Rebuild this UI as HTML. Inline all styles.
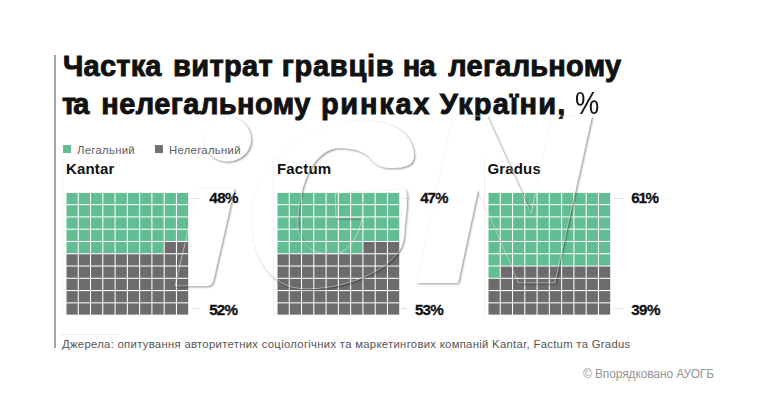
<!DOCTYPE html>
<html><head><meta charset="utf-8">
<style>
html,body{margin:0;padding:0;background:#fff;}
body{width:768px;height:403px;position:relative;overflow:hidden;font-family:"Liberation Sans",sans-serif;}
.a{position:absolute;white-space:nowrap;}
#vline{position:absolute;left:54px;top:55px;width:2px;height:293px;background:#a2a2a2;}
.title{font-weight:700;font-size:29px;color:#111;line-height:29px;-webkit-text-stroke:0.9px #111;}
.leg{font-size:11.3px;color:#5c5c5c;line-height:11.3px;letter-spacing:0.31px;}
.sq{position:absolute;width:8px;height:8px;}
.pt{font-weight:700;font-size:15px;color:#111;line-height:15px;letter-spacing:0.15px;}
.pc{font-weight:700;font-size:15.2px;color:#111;line-height:15.2px;letter-spacing:-0.35px;-webkit-text-stroke:0.3px #111;}
.ld{position:absolute;height:1px;background:#e2e2e2;}
.src{font-size:11.3px;color:#555;line-height:11.3px;letter-spacing:0.3px;}
.cp{font-size:12px;color:#959595;line-height:12px;letter-spacing:-0.12px;}
</style></head><body>
<div id="vline"></div>
<div class="a title" style="left:63px;top:52.25px;letter-spacing:0.2px;">Частка</div>
<div class="a title" style="left:173.1px;top:52.25px;letter-spacing:0.34px;">витрат</div>
<div class="a title" style="left:281.7px;top:52.25px;letter-spacing:0.75px;">гравців</div>
<div class="a title" style="left:402.75px;top:52.25px;letter-spacing:-0.75px;">на</div>
<div class="a title" style="left:448.3px;top:52.25px;letter-spacing:0.24px;">легальному</div>
<div class="a title" style="left:62.1px;top:89.65px;letter-spacing:-3.1px;">та</div>
<div class="a title" style="left:101.3px;top:89.65px;letter-spacing:0.43px;">нелегальному</div>
<div class="a title" style="left:320.9px;top:89.65px;letter-spacing:1.74px;">ринках</div>
<div class="a title" style="left:439.7px;top:89.65px;letter-spacing:1.27px;">України,</div>
<div id="pct" class="a title" style="left:575px;top:88.3px;font-size:31px;line-height:31px;font-weight:400;-webkit-text-stroke:0;transform:scaleX(0.88);transform-origin:0 0;">%</div>

<div class="sq" style="left:63px;top:145px;background:#63bd92;"></div>
<div id="l1" class="a leg" style="left:77px;top:144.7px;">Легальний</div>
<div class="sq" style="left:155px;top:145px;background:#707070;"></div>
<div id="l2" class="a leg" style="left:169px;top:144.7px;">Нелегальний</div>

<div style="position:absolute;left:61.6px;top:158px;width:1px;height:157px;background:#f1f1f1;"></div>
<div style="position:absolute;left:272.6px;top:158px;width:1px;height:157px;background:#f1f1f1;"></div>
<div style="position:absolute;left:483.6px;top:158px;width:1px;height:157px;background:#f1f1f1;"></div>
<div id="p1" class="a pt" style="left:66px;top:160.8px;">Kantar</div>
<div id="p2" class="a pt" style="left:277px;top:160.8px;">Factum</div>
<div id="p3" class="a pt" style="left:487.5px;top:160.8px;">Gradus</div>

<svg id="g" class="a" style="left:0;top:0" width="768" height="403" viewBox="0 0 768 403">
<rect x="66.50" y="192.90" width="11.225" height="11.225" fill="#63bd92"/>
<rect x="78.78" y="192.90" width="11.225" height="11.225" fill="#63bd92"/>
<rect x="91.05" y="192.90" width="11.225" height="11.225" fill="#63bd92"/>
<rect x="103.33" y="192.90" width="11.225" height="11.225" fill="#63bd92"/>
<rect x="115.60" y="192.90" width="11.225" height="11.225" fill="#63bd92"/>
<rect x="127.88" y="192.90" width="11.225" height="11.225" fill="#63bd92"/>
<rect x="140.15" y="192.90" width="11.225" height="11.225" fill="#63bd92"/>
<rect x="152.43" y="192.90" width="11.225" height="11.225" fill="#63bd92"/>
<rect x="164.70" y="192.90" width="11.225" height="11.225" fill="#63bd92"/>
<rect x="176.98" y="192.90" width="11.225" height="11.225" fill="#63bd92"/>
<rect x="66.50" y="205.18" width="11.225" height="11.225" fill="#63bd92"/>
<rect x="78.78" y="205.18" width="11.225" height="11.225" fill="#63bd92"/>
<rect x="91.05" y="205.18" width="11.225" height="11.225" fill="#63bd92"/>
<rect x="103.33" y="205.18" width="11.225" height="11.225" fill="#63bd92"/>
<rect x="115.60" y="205.18" width="11.225" height="11.225" fill="#63bd92"/>
<rect x="127.88" y="205.18" width="11.225" height="11.225" fill="#63bd92"/>
<rect x="140.15" y="205.18" width="11.225" height="11.225" fill="#63bd92"/>
<rect x="152.43" y="205.18" width="11.225" height="11.225" fill="#63bd92"/>
<rect x="164.70" y="205.18" width="11.225" height="11.225" fill="#63bd92"/>
<rect x="176.98" y="205.18" width="11.225" height="11.225" fill="#63bd92"/>
<rect x="66.50" y="217.45" width="11.225" height="11.225" fill="#63bd92"/>
<rect x="78.78" y="217.45" width="11.225" height="11.225" fill="#63bd92"/>
<rect x="91.05" y="217.45" width="11.225" height="11.225" fill="#63bd92"/>
<rect x="103.33" y="217.45" width="11.225" height="11.225" fill="#63bd92"/>
<rect x="115.60" y="217.45" width="11.225" height="11.225" fill="#63bd92"/>
<rect x="127.88" y="217.45" width="11.225" height="11.225" fill="#63bd92"/>
<rect x="140.15" y="217.45" width="11.225" height="11.225" fill="#63bd92"/>
<rect x="152.43" y="217.45" width="11.225" height="11.225" fill="#63bd92"/>
<rect x="164.70" y="217.45" width="11.225" height="11.225" fill="#63bd92"/>
<rect x="176.98" y="217.45" width="11.225" height="11.225" fill="#63bd92"/>
<rect x="66.50" y="229.73" width="11.225" height="11.225" fill="#63bd92"/>
<rect x="78.78" y="229.73" width="11.225" height="11.225" fill="#63bd92"/>
<rect x="91.05" y="229.73" width="11.225" height="11.225" fill="#63bd92"/>
<rect x="103.33" y="229.73" width="11.225" height="11.225" fill="#63bd92"/>
<rect x="115.60" y="229.73" width="11.225" height="11.225" fill="#63bd92"/>
<rect x="127.88" y="229.73" width="11.225" height="11.225" fill="#63bd92"/>
<rect x="140.15" y="229.73" width="11.225" height="11.225" fill="#63bd92"/>
<rect x="152.43" y="229.73" width="11.225" height="11.225" fill="#63bd92"/>
<rect x="164.70" y="229.73" width="11.225" height="11.225" fill="#63bd92"/>
<rect x="176.98" y="229.73" width="11.225" height="11.225" fill="#63bd92"/>
<rect x="66.50" y="242.00" width="11.225" height="11.225" fill="#63bd92"/>
<rect x="78.78" y="242.00" width="11.225" height="11.225" fill="#63bd92"/>
<rect x="91.05" y="242.00" width="11.225" height="11.225" fill="#63bd92"/>
<rect x="103.33" y="242.00" width="11.225" height="11.225" fill="#63bd92"/>
<rect x="115.60" y="242.00" width="11.225" height="11.225" fill="#63bd92"/>
<rect x="127.88" y="242.00" width="11.225" height="11.225" fill="#63bd92"/>
<rect x="140.15" y="242.00" width="11.225" height="11.225" fill="#63bd92"/>
<rect x="152.43" y="242.00" width="11.225" height="11.225" fill="#63bd92"/>
<rect x="164.70" y="242.00" width="11.225" height="11.225" fill="#6d6b6d"/>
<rect x="176.98" y="242.00" width="11.225" height="11.225" fill="#6d6b6d"/>
<rect x="66.50" y="254.28" width="11.225" height="11.225" fill="#6d6b6d"/>
<rect x="78.78" y="254.28" width="11.225" height="11.225" fill="#6d6b6d"/>
<rect x="91.05" y="254.28" width="11.225" height="11.225" fill="#6d6b6d"/>
<rect x="103.33" y="254.28" width="11.225" height="11.225" fill="#6d6b6d"/>
<rect x="115.60" y="254.28" width="11.225" height="11.225" fill="#6d6b6d"/>
<rect x="127.88" y="254.28" width="11.225" height="11.225" fill="#6d6b6d"/>
<rect x="140.15" y="254.28" width="11.225" height="11.225" fill="#6d6b6d"/>
<rect x="152.43" y="254.28" width="11.225" height="11.225" fill="#6d6b6d"/>
<rect x="164.70" y="254.28" width="11.225" height="11.225" fill="#6d6b6d"/>
<rect x="176.98" y="254.28" width="11.225" height="11.225" fill="#6d6b6d"/>
<rect x="66.50" y="266.55" width="11.225" height="11.225" fill="#6d6b6d"/>
<rect x="78.78" y="266.55" width="11.225" height="11.225" fill="#6d6b6d"/>
<rect x="91.05" y="266.55" width="11.225" height="11.225" fill="#6d6b6d"/>
<rect x="103.33" y="266.55" width="11.225" height="11.225" fill="#6d6b6d"/>
<rect x="115.60" y="266.55" width="11.225" height="11.225" fill="#6d6b6d"/>
<rect x="127.88" y="266.55" width="11.225" height="11.225" fill="#6d6b6d"/>
<rect x="140.15" y="266.55" width="11.225" height="11.225" fill="#6d6b6d"/>
<rect x="152.43" y="266.55" width="11.225" height="11.225" fill="#6d6b6d"/>
<rect x="164.70" y="266.55" width="11.225" height="11.225" fill="#6d6b6d"/>
<rect x="176.98" y="266.55" width="11.225" height="11.225" fill="#6d6b6d"/>
<rect x="66.50" y="278.82" width="11.225" height="11.225" fill="#6d6b6d"/>
<rect x="78.78" y="278.82" width="11.225" height="11.225" fill="#6d6b6d"/>
<rect x="91.05" y="278.82" width="11.225" height="11.225" fill="#6d6b6d"/>
<rect x="103.33" y="278.82" width="11.225" height="11.225" fill="#6d6b6d"/>
<rect x="115.60" y="278.82" width="11.225" height="11.225" fill="#6d6b6d"/>
<rect x="127.88" y="278.82" width="11.225" height="11.225" fill="#6d6b6d"/>
<rect x="140.15" y="278.82" width="11.225" height="11.225" fill="#6d6b6d"/>
<rect x="152.43" y="278.82" width="11.225" height="11.225" fill="#6d6b6d"/>
<rect x="164.70" y="278.82" width="11.225" height="11.225" fill="#6d6b6d"/>
<rect x="176.98" y="278.82" width="11.225" height="11.225" fill="#6d6b6d"/>
<rect x="66.50" y="291.10" width="11.225" height="11.225" fill="#6d6b6d"/>
<rect x="78.78" y="291.10" width="11.225" height="11.225" fill="#6d6b6d"/>
<rect x="91.05" y="291.10" width="11.225" height="11.225" fill="#6d6b6d"/>
<rect x="103.33" y="291.10" width="11.225" height="11.225" fill="#6d6b6d"/>
<rect x="115.60" y="291.10" width="11.225" height="11.225" fill="#6d6b6d"/>
<rect x="127.88" y="291.10" width="11.225" height="11.225" fill="#6d6b6d"/>
<rect x="140.15" y="291.10" width="11.225" height="11.225" fill="#6d6b6d"/>
<rect x="152.43" y="291.10" width="11.225" height="11.225" fill="#6d6b6d"/>
<rect x="164.70" y="291.10" width="11.225" height="11.225" fill="#6d6b6d"/>
<rect x="176.98" y="291.10" width="11.225" height="11.225" fill="#6d6b6d"/>
<rect x="66.50" y="303.38" width="11.225" height="11.225" fill="#6d6b6d"/>
<rect x="78.78" y="303.38" width="11.225" height="11.225" fill="#6d6b6d"/>
<rect x="91.05" y="303.38" width="11.225" height="11.225" fill="#6d6b6d"/>
<rect x="103.33" y="303.38" width="11.225" height="11.225" fill="#6d6b6d"/>
<rect x="115.60" y="303.38" width="11.225" height="11.225" fill="#6d6b6d"/>
<rect x="127.88" y="303.38" width="11.225" height="11.225" fill="#6d6b6d"/>
<rect x="140.15" y="303.38" width="11.225" height="11.225" fill="#6d6b6d"/>
<rect x="152.43" y="303.38" width="11.225" height="11.225" fill="#6d6b6d"/>
<rect x="164.70" y="303.38" width="11.225" height="11.225" fill="#6d6b6d"/>
<rect x="176.98" y="303.38" width="11.225" height="11.225" fill="#6d6b6d"/>
<rect x="277.50" y="192.90" width="11.225" height="11.225" fill="#63bd92"/>
<rect x="289.77" y="192.90" width="11.225" height="11.225" fill="#63bd92"/>
<rect x="302.05" y="192.90" width="11.225" height="11.225" fill="#63bd92"/>
<rect x="314.32" y="192.90" width="11.225" height="11.225" fill="#63bd92"/>
<rect x="326.60" y="192.90" width="11.225" height="11.225" fill="#63bd92"/>
<rect x="338.88" y="192.90" width="11.225" height="11.225" fill="#63bd92"/>
<rect x="351.15" y="192.90" width="11.225" height="11.225" fill="#63bd92"/>
<rect x="363.43" y="192.90" width="11.225" height="11.225" fill="#63bd92"/>
<rect x="375.70" y="192.90" width="11.225" height="11.225" fill="#63bd92"/>
<rect x="387.98" y="192.90" width="11.225" height="11.225" fill="#63bd92"/>
<rect x="277.50" y="205.18" width="11.225" height="11.225" fill="#63bd92"/>
<rect x="289.77" y="205.18" width="11.225" height="11.225" fill="#63bd92"/>
<rect x="302.05" y="205.18" width="11.225" height="11.225" fill="#63bd92"/>
<rect x="314.32" y="205.18" width="11.225" height="11.225" fill="#63bd92"/>
<rect x="326.60" y="205.18" width="11.225" height="11.225" fill="#63bd92"/>
<rect x="338.88" y="205.18" width="11.225" height="11.225" fill="#63bd92"/>
<rect x="351.15" y="205.18" width="11.225" height="11.225" fill="#63bd92"/>
<rect x="363.43" y="205.18" width="11.225" height="11.225" fill="#63bd92"/>
<rect x="375.70" y="205.18" width="11.225" height="11.225" fill="#63bd92"/>
<rect x="387.98" y="205.18" width="11.225" height="11.225" fill="#63bd92"/>
<rect x="277.50" y="217.45" width="11.225" height="11.225" fill="#63bd92"/>
<rect x="289.77" y="217.45" width="11.225" height="11.225" fill="#63bd92"/>
<rect x="302.05" y="217.45" width="11.225" height="11.225" fill="#63bd92"/>
<rect x="314.32" y="217.45" width="11.225" height="11.225" fill="#63bd92"/>
<rect x="326.60" y="217.45" width="11.225" height="11.225" fill="#63bd92"/>
<rect x="338.88" y="217.45" width="11.225" height="11.225" fill="#63bd92"/>
<rect x="351.15" y="217.45" width="11.225" height="11.225" fill="#63bd92"/>
<rect x="363.43" y="217.45" width="11.225" height="11.225" fill="#63bd92"/>
<rect x="375.70" y="217.45" width="11.225" height="11.225" fill="#63bd92"/>
<rect x="387.98" y="217.45" width="11.225" height="11.225" fill="#63bd92"/>
<rect x="277.50" y="229.73" width="11.225" height="11.225" fill="#63bd92"/>
<rect x="289.77" y="229.73" width="11.225" height="11.225" fill="#63bd92"/>
<rect x="302.05" y="229.73" width="11.225" height="11.225" fill="#63bd92"/>
<rect x="314.32" y="229.73" width="11.225" height="11.225" fill="#63bd92"/>
<rect x="326.60" y="229.73" width="11.225" height="11.225" fill="#63bd92"/>
<rect x="338.88" y="229.73" width="11.225" height="11.225" fill="#63bd92"/>
<rect x="351.15" y="229.73" width="11.225" height="11.225" fill="#63bd92"/>
<rect x="363.43" y="229.73" width="11.225" height="11.225" fill="#63bd92"/>
<rect x="375.70" y="229.73" width="11.225" height="11.225" fill="#63bd92"/>
<rect x="387.98" y="229.73" width="11.225" height="11.225" fill="#63bd92"/>
<rect x="277.50" y="242.00" width="11.225" height="11.225" fill="#63bd92"/>
<rect x="289.77" y="242.00" width="11.225" height="11.225" fill="#63bd92"/>
<rect x="302.05" y="242.00" width="11.225" height="11.225" fill="#63bd92"/>
<rect x="314.32" y="242.00" width="11.225" height="11.225" fill="#63bd92"/>
<rect x="326.60" y="242.00" width="11.225" height="11.225" fill="#63bd92"/>
<rect x="338.88" y="242.00" width="11.225" height="11.225" fill="#63bd92"/>
<rect x="351.15" y="242.00" width="11.225" height="11.225" fill="#63bd92"/>
<rect x="363.43" y="242.00" width="11.225" height="11.225" fill="#6d6b6d"/>
<rect x="375.70" y="242.00" width="11.225" height="11.225" fill="#6d6b6d"/>
<rect x="387.98" y="242.00" width="11.225" height="11.225" fill="#6d6b6d"/>
<rect x="277.50" y="254.28" width="11.225" height="11.225" fill="#6d6b6d"/>
<rect x="289.77" y="254.28" width="11.225" height="11.225" fill="#6d6b6d"/>
<rect x="302.05" y="254.28" width="11.225" height="11.225" fill="#6d6b6d"/>
<rect x="314.32" y="254.28" width="11.225" height="11.225" fill="#6d6b6d"/>
<rect x="326.60" y="254.28" width="11.225" height="11.225" fill="#6d6b6d"/>
<rect x="338.88" y="254.28" width="11.225" height="11.225" fill="#6d6b6d"/>
<rect x="351.15" y="254.28" width="11.225" height="11.225" fill="#6d6b6d"/>
<rect x="363.43" y="254.28" width="11.225" height="11.225" fill="#6d6b6d"/>
<rect x="375.70" y="254.28" width="11.225" height="11.225" fill="#6d6b6d"/>
<rect x="387.98" y="254.28" width="11.225" height="11.225" fill="#6d6b6d"/>
<rect x="277.50" y="266.55" width="11.225" height="11.225" fill="#6d6b6d"/>
<rect x="289.77" y="266.55" width="11.225" height="11.225" fill="#6d6b6d"/>
<rect x="302.05" y="266.55" width="11.225" height="11.225" fill="#6d6b6d"/>
<rect x="314.32" y="266.55" width="11.225" height="11.225" fill="#6d6b6d"/>
<rect x="326.60" y="266.55" width="11.225" height="11.225" fill="#6d6b6d"/>
<rect x="338.88" y="266.55" width="11.225" height="11.225" fill="#6d6b6d"/>
<rect x="351.15" y="266.55" width="11.225" height="11.225" fill="#6d6b6d"/>
<rect x="363.43" y="266.55" width="11.225" height="11.225" fill="#6d6b6d"/>
<rect x="375.70" y="266.55" width="11.225" height="11.225" fill="#6d6b6d"/>
<rect x="387.98" y="266.55" width="11.225" height="11.225" fill="#6d6b6d"/>
<rect x="277.50" y="278.82" width="11.225" height="11.225" fill="#6d6b6d"/>
<rect x="289.77" y="278.82" width="11.225" height="11.225" fill="#6d6b6d"/>
<rect x="302.05" y="278.82" width="11.225" height="11.225" fill="#6d6b6d"/>
<rect x="314.32" y="278.82" width="11.225" height="11.225" fill="#6d6b6d"/>
<rect x="326.60" y="278.82" width="11.225" height="11.225" fill="#6d6b6d"/>
<rect x="338.88" y="278.82" width="11.225" height="11.225" fill="#6d6b6d"/>
<rect x="351.15" y="278.82" width="11.225" height="11.225" fill="#6d6b6d"/>
<rect x="363.43" y="278.82" width="11.225" height="11.225" fill="#6d6b6d"/>
<rect x="375.70" y="278.82" width="11.225" height="11.225" fill="#6d6b6d"/>
<rect x="387.98" y="278.82" width="11.225" height="11.225" fill="#6d6b6d"/>
<rect x="277.50" y="291.10" width="11.225" height="11.225" fill="#6d6b6d"/>
<rect x="289.77" y="291.10" width="11.225" height="11.225" fill="#6d6b6d"/>
<rect x="302.05" y="291.10" width="11.225" height="11.225" fill="#6d6b6d"/>
<rect x="314.32" y="291.10" width="11.225" height="11.225" fill="#6d6b6d"/>
<rect x="326.60" y="291.10" width="11.225" height="11.225" fill="#6d6b6d"/>
<rect x="338.88" y="291.10" width="11.225" height="11.225" fill="#6d6b6d"/>
<rect x="351.15" y="291.10" width="11.225" height="11.225" fill="#6d6b6d"/>
<rect x="363.43" y="291.10" width="11.225" height="11.225" fill="#6d6b6d"/>
<rect x="375.70" y="291.10" width="11.225" height="11.225" fill="#6d6b6d"/>
<rect x="387.98" y="291.10" width="11.225" height="11.225" fill="#6d6b6d"/>
<rect x="277.50" y="303.38" width="11.225" height="11.225" fill="#6d6b6d"/>
<rect x="289.77" y="303.38" width="11.225" height="11.225" fill="#6d6b6d"/>
<rect x="302.05" y="303.38" width="11.225" height="11.225" fill="#6d6b6d"/>
<rect x="314.32" y="303.38" width="11.225" height="11.225" fill="#6d6b6d"/>
<rect x="326.60" y="303.38" width="11.225" height="11.225" fill="#6d6b6d"/>
<rect x="338.88" y="303.38" width="11.225" height="11.225" fill="#6d6b6d"/>
<rect x="351.15" y="303.38" width="11.225" height="11.225" fill="#6d6b6d"/>
<rect x="363.43" y="303.38" width="11.225" height="11.225" fill="#6d6b6d"/>
<rect x="375.70" y="303.38" width="11.225" height="11.225" fill="#6d6b6d"/>
<rect x="387.98" y="303.38" width="11.225" height="11.225" fill="#6d6b6d"/>
<rect x="488.50" y="192.90" width="11.225" height="11.225" fill="#63bd92"/>
<rect x="500.77" y="192.90" width="11.225" height="11.225" fill="#63bd92"/>
<rect x="513.05" y="192.90" width="11.225" height="11.225" fill="#63bd92"/>
<rect x="525.33" y="192.90" width="11.225" height="11.225" fill="#63bd92"/>
<rect x="537.60" y="192.90" width="11.225" height="11.225" fill="#63bd92"/>
<rect x="549.88" y="192.90" width="11.225" height="11.225" fill="#63bd92"/>
<rect x="562.15" y="192.90" width="11.225" height="11.225" fill="#63bd92"/>
<rect x="574.42" y="192.90" width="11.225" height="11.225" fill="#63bd92"/>
<rect x="586.70" y="192.90" width="11.225" height="11.225" fill="#63bd92"/>
<rect x="598.98" y="192.90" width="11.225" height="11.225" fill="#63bd92"/>
<rect x="488.50" y="205.18" width="11.225" height="11.225" fill="#63bd92"/>
<rect x="500.77" y="205.18" width="11.225" height="11.225" fill="#63bd92"/>
<rect x="513.05" y="205.18" width="11.225" height="11.225" fill="#63bd92"/>
<rect x="525.33" y="205.18" width="11.225" height="11.225" fill="#63bd92"/>
<rect x="537.60" y="205.18" width="11.225" height="11.225" fill="#63bd92"/>
<rect x="549.88" y="205.18" width="11.225" height="11.225" fill="#63bd92"/>
<rect x="562.15" y="205.18" width="11.225" height="11.225" fill="#63bd92"/>
<rect x="574.42" y="205.18" width="11.225" height="11.225" fill="#63bd92"/>
<rect x="586.70" y="205.18" width="11.225" height="11.225" fill="#63bd92"/>
<rect x="598.98" y="205.18" width="11.225" height="11.225" fill="#63bd92"/>
<rect x="488.50" y="217.45" width="11.225" height="11.225" fill="#63bd92"/>
<rect x="500.77" y="217.45" width="11.225" height="11.225" fill="#63bd92"/>
<rect x="513.05" y="217.45" width="11.225" height="11.225" fill="#63bd92"/>
<rect x="525.33" y="217.45" width="11.225" height="11.225" fill="#63bd92"/>
<rect x="537.60" y="217.45" width="11.225" height="11.225" fill="#63bd92"/>
<rect x="549.88" y="217.45" width="11.225" height="11.225" fill="#63bd92"/>
<rect x="562.15" y="217.45" width="11.225" height="11.225" fill="#63bd92"/>
<rect x="574.42" y="217.45" width="11.225" height="11.225" fill="#63bd92"/>
<rect x="586.70" y="217.45" width="11.225" height="11.225" fill="#63bd92"/>
<rect x="598.98" y="217.45" width="11.225" height="11.225" fill="#63bd92"/>
<rect x="488.50" y="229.73" width="11.225" height="11.225" fill="#63bd92"/>
<rect x="500.77" y="229.73" width="11.225" height="11.225" fill="#63bd92"/>
<rect x="513.05" y="229.73" width="11.225" height="11.225" fill="#63bd92"/>
<rect x="525.33" y="229.73" width="11.225" height="11.225" fill="#63bd92"/>
<rect x="537.60" y="229.73" width="11.225" height="11.225" fill="#63bd92"/>
<rect x="549.88" y="229.73" width="11.225" height="11.225" fill="#63bd92"/>
<rect x="562.15" y="229.73" width="11.225" height="11.225" fill="#63bd92"/>
<rect x="574.42" y="229.73" width="11.225" height="11.225" fill="#63bd92"/>
<rect x="586.70" y="229.73" width="11.225" height="11.225" fill="#63bd92"/>
<rect x="598.98" y="229.73" width="11.225" height="11.225" fill="#63bd92"/>
<rect x="488.50" y="242.00" width="11.225" height="11.225" fill="#63bd92"/>
<rect x="500.77" y="242.00" width="11.225" height="11.225" fill="#63bd92"/>
<rect x="513.05" y="242.00" width="11.225" height="11.225" fill="#63bd92"/>
<rect x="525.33" y="242.00" width="11.225" height="11.225" fill="#63bd92"/>
<rect x="537.60" y="242.00" width="11.225" height="11.225" fill="#63bd92"/>
<rect x="549.88" y="242.00" width="11.225" height="11.225" fill="#63bd92"/>
<rect x="562.15" y="242.00" width="11.225" height="11.225" fill="#63bd92"/>
<rect x="574.42" y="242.00" width="11.225" height="11.225" fill="#63bd92"/>
<rect x="586.70" y="242.00" width="11.225" height="11.225" fill="#63bd92"/>
<rect x="598.98" y="242.00" width="11.225" height="11.225" fill="#63bd92"/>
<rect x="488.50" y="254.28" width="11.225" height="11.225" fill="#63bd92"/>
<rect x="500.77" y="254.28" width="11.225" height="11.225" fill="#63bd92"/>
<rect x="513.05" y="254.28" width="11.225" height="11.225" fill="#63bd92"/>
<rect x="525.33" y="254.28" width="11.225" height="11.225" fill="#63bd92"/>
<rect x="537.60" y="254.28" width="11.225" height="11.225" fill="#63bd92"/>
<rect x="549.88" y="254.28" width="11.225" height="11.225" fill="#63bd92"/>
<rect x="562.15" y="254.28" width="11.225" height="11.225" fill="#63bd92"/>
<rect x="574.42" y="254.28" width="11.225" height="11.225" fill="#63bd92"/>
<rect x="586.70" y="254.28" width="11.225" height="11.225" fill="#63bd92"/>
<rect x="598.98" y="254.28" width="11.225" height="11.225" fill="#63bd92"/>
<rect x="488.50" y="266.55" width="11.225" height="11.225" fill="#63bd92"/>
<rect x="500.77" y="266.55" width="11.225" height="11.225" fill="#6d6b6d"/>
<rect x="513.05" y="266.55" width="11.225" height="11.225" fill="#6d6b6d"/>
<rect x="525.33" y="266.55" width="11.225" height="11.225" fill="#6d6b6d"/>
<rect x="537.60" y="266.55" width="11.225" height="11.225" fill="#6d6b6d"/>
<rect x="549.88" y="266.55" width="11.225" height="11.225" fill="#6d6b6d"/>
<rect x="562.15" y="266.55" width="11.225" height="11.225" fill="#6d6b6d"/>
<rect x="574.42" y="266.55" width="11.225" height="11.225" fill="#6d6b6d"/>
<rect x="586.70" y="266.55" width="11.225" height="11.225" fill="#6d6b6d"/>
<rect x="598.98" y="266.55" width="11.225" height="11.225" fill="#6d6b6d"/>
<rect x="488.50" y="278.82" width="11.225" height="11.225" fill="#6d6b6d"/>
<rect x="500.77" y="278.82" width="11.225" height="11.225" fill="#6d6b6d"/>
<rect x="513.05" y="278.82" width="11.225" height="11.225" fill="#6d6b6d"/>
<rect x="525.33" y="278.82" width="11.225" height="11.225" fill="#6d6b6d"/>
<rect x="537.60" y="278.82" width="11.225" height="11.225" fill="#6d6b6d"/>
<rect x="549.88" y="278.82" width="11.225" height="11.225" fill="#6d6b6d"/>
<rect x="562.15" y="278.82" width="11.225" height="11.225" fill="#6d6b6d"/>
<rect x="574.42" y="278.82" width="11.225" height="11.225" fill="#6d6b6d"/>
<rect x="586.70" y="278.82" width="11.225" height="11.225" fill="#6d6b6d"/>
<rect x="598.98" y="278.82" width="11.225" height="11.225" fill="#6d6b6d"/>
<rect x="488.50" y="291.10" width="11.225" height="11.225" fill="#6d6b6d"/>
<rect x="500.77" y="291.10" width="11.225" height="11.225" fill="#6d6b6d"/>
<rect x="513.05" y="291.10" width="11.225" height="11.225" fill="#6d6b6d"/>
<rect x="525.33" y="291.10" width="11.225" height="11.225" fill="#6d6b6d"/>
<rect x="537.60" y="291.10" width="11.225" height="11.225" fill="#6d6b6d"/>
<rect x="549.88" y="291.10" width="11.225" height="11.225" fill="#6d6b6d"/>
<rect x="562.15" y="291.10" width="11.225" height="11.225" fill="#6d6b6d"/>
<rect x="574.42" y="291.10" width="11.225" height="11.225" fill="#6d6b6d"/>
<rect x="586.70" y="291.10" width="11.225" height="11.225" fill="#6d6b6d"/>
<rect x="598.98" y="291.10" width="11.225" height="11.225" fill="#6d6b6d"/>
<rect x="488.50" y="303.38" width="11.225" height="11.225" fill="#6d6b6d"/>
<rect x="500.77" y="303.38" width="11.225" height="11.225" fill="#6d6b6d"/>
<rect x="513.05" y="303.38" width="11.225" height="11.225" fill="#6d6b6d"/>
<rect x="525.33" y="303.38" width="11.225" height="11.225" fill="#6d6b6d"/>
<rect x="537.60" y="303.38" width="11.225" height="11.225" fill="#6d6b6d"/>
<rect x="549.88" y="303.38" width="11.225" height="11.225" fill="#6d6b6d"/>
<rect x="562.15" y="303.38" width="11.225" height="11.225" fill="#6d6b6d"/>
<rect x="574.42" y="303.38" width="11.225" height="11.225" fill="#6d6b6d"/>
<rect x="586.70" y="303.38" width="11.225" height="11.225" fill="#6d6b6d"/>
<rect x="598.98" y="303.38" width="11.225" height="11.225" fill="#6d6b6d"/>
</svg>

<div class="ld" style="left:191px;top:198px;width:9px;"></div>
<div class="ld" style="left:191px;top:308px;width:9px;"></div>
<div class="ld" style="left:402px;top:198px;width:9px;"></div>
<div class="ld" style="left:401px;top:308px;width:6px;"></div>
<div class="ld" style="left:613px;top:198px;width:10px;"></div>
<div class="ld" style="left:613px;top:308px;width:10px;"></div>

<div id="c1" class="a pc" style="left:209.2px;top:189.8px;letter-spacing:-0.5px;">48%</div>
<div id="c2" class="a pc" style="left:209.2px;top:301.7px;letter-spacing:-0.8px;">52%</div>
<div id="c3" class="a pc" style="left:420.2px;top:189.8px;letter-spacing:-1.1px;">47%</div>
<div id="c4" class="a pc" style="left:415.0px;top:301.7px;letter-spacing:-0.85px;">53%</div>
<div id="c5" class="a pc" style="left:631.25px;top:189.8px;letter-spacing:-1.3px;">61%</div>
<div id="c6" class="a pc" style="left:631.25px;top:301.7px;letter-spacing:-0.6px;">39%</div>

<svg id="wm" class="a" style="left:0;top:0" width="768" height="403" viewBox="0 0 768 403">
<defs>
<filter id="emb" x="0" y="0" width="768" height="403" filterUnits="userSpaceOnUse">
<feOffset in="SourceAlpha" dx="1.1" dy="1.3" result="o1"/>
<feGaussianBlur in="o1" stdDeviation="0.8" result="b1"/>
<feComposite in="b1" in2="SourceAlpha" operator="out" result="s1"/>
<feFlood flood-color="#000" flood-opacity="0.5" result="f1"/>
<feComposite in="f1" in2="s1" operator="in"/>
</filter>
</defs>
<g filter="url(#emb)" fill="#fff">
<ellipse cx="227.5" cy="139.2" rx="23.6" ry="22.2"/>
<path d="M198,188 L234.5,188 L213.2,281 Q212,286 207,286 L175,286 Z"/>
<path d="M414,156 C414,135 395,121 365,121 C300,121 255,170 252,215 C250,258 272,289 305,288.8 C340,289.5 380,275 396,255 C402,249 404.5,240 404.5,228 Q409,192 405,189.5 L335,193 L336,218 L362,218 C358,240 347,254 331,254 C310,254 297,240 298,222 C299,180 316,148 340,148 C356,148 367,153 372,160 C378,167 385,168 392,168 C405,168 414,165 414,156 Z"/>
<path d="M453,116 L487,116 L531,213 L552,116 L592,116 L555,283 L518.5,283 L478,190 L458,283 L417,283 Z"/>
</g>
<g fill="none" stroke="#fff" stroke-opacity="0.5" stroke-width="1">
<ellipse cx="227.5" cy="139.2" rx="23.6" ry="22.2"/>
<path d="M198,188 L234.5,188 L213.2,281 Q212,286 207,286 L175,286 Z"/>
<path d="M414,156 C414,135 395,121 365,121 C300,121 255,170 252,215 C250,258 272,289 305,288.8 C340,289.5 380,275 396,255 C402,249 404.5,240 404.5,228 Q409,192 405,189.5 L335,193 L336,218 L362,218 C358,240 347,254 331,254 C310,254 297,240 298,222 C299,180 316,148 340,148 C356,148 367,153 372,160 C378,167 385,168 392,168 C405,168 414,165 414,156 Z"/>
<path d="M453,116 L487,116 L531,213 L552,116 L592,116 L555,283 L518.5,283 L478,190 L458,283 L417,283 Z"/>
</g>
</svg>
<div class="ld" style="left:61px;top:333.7px;width:58px;background:#ececec;"></div>
<div id="src" class="a src" style="left:62px;top:339.2px;">Джерела: опитування авторитетних соціологічних та маркетингових компаній Kantar, Factum та Gradus</div>
<div id="cp" class="a cp" style="left:583px;top:367.5px;">© Впорядковано АУОГБ</div>
</body></html>
